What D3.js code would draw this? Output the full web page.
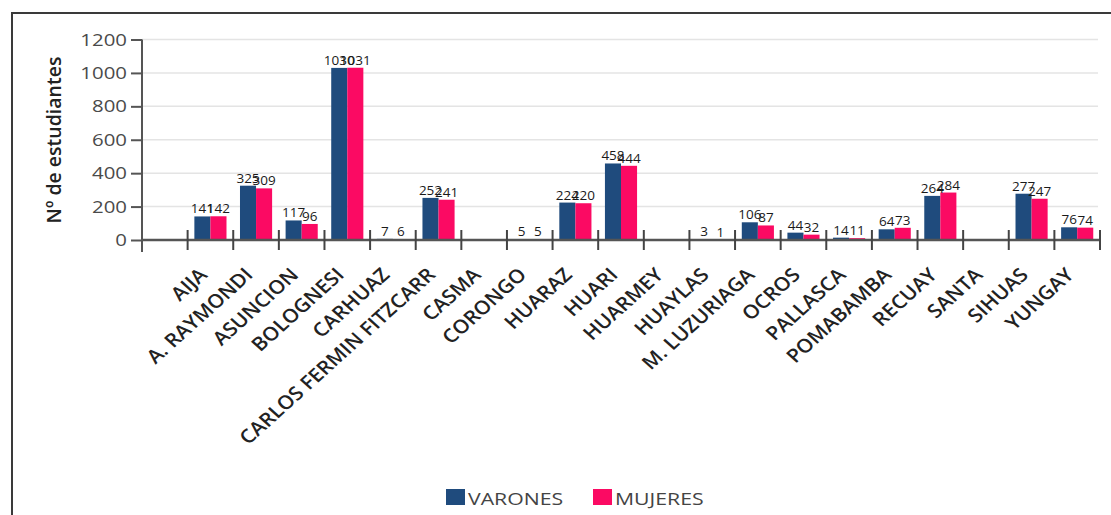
<!DOCTYPE html>
<html><head><meta charset="utf-8">
<script src="https://cdn.jsdelivr.net/npm/d3@7"></script>
<style>
html,body{margin:0;padding:0;background:#fff;}
svg{display:block;font-family:"Open Sans",sans-serif;}
</style></head>
<body>
<svg id="chart" width="1111" height="515"></svg>
<script>
const categories = ["", "AIJA", "A. RAYMONDI", "ASUNCION", "BOLOGNESI", "CARHUAZ", "CARLOS FERMIN FITZCARR", "CASMA", "CORONGO", "HUARAZ", "HUARI", "HUARMEY", "HUAYLAS", "M. LUZURIAGA", "OCROS", "PALLASCA", "POMABAMBA", "RECUAY", "SANTA", "SIHUAS", "YUNGAY"];
const varones = [null, 141, 325, 117, 1030, 7, 252, 0, 5, 224, 458, 0, 3, 106, 44, 14, 64, 264, 0, 277, 76];
const mujeres = [null, 142, 309, 96, 1031, 6, 241, 0, 5, 220, 444, 0, 1, 87, 32, 11, 73, 284, 0, 247, 74];
const seriesNames = ["VARONES", "MUJERES"];
const seriesColors = ["#1f4b7d", "#fb0a63"];
const yTicks = [0, 200, 400, 600, 800, 1000, 1200];
const yTitle = "Nº de estudiantes";

const svg = d3.select("#chart");
const plot = {left: 142, right: 1100, top: 39.5, bottom: 240};

// frame
svg.append("line").attr("x1", 12).attr("x2", 1111).attr("y1", 13).attr("y2", 13).attr("stroke", "#3a3a3a").attr("stroke-width", 2);
svg.append("line").attr("x1", 12).attr("x2", 12).attr("y1", 12).attr("y2", 515).attr("stroke", "#3a3a3a").attr("stroke-width", 2);

const x = d3.scaleBand().domain(categories).range([plot.left, plot.right]).padding(0);
const x1 = d3.scaleBand().domain(seriesNames).range([0, x.bandwidth()]).paddingInner(0).paddingOuter(0.42);
const y = d3.scaleLinear().domain([0, 1200]).range([plot.bottom, plot.top]);

// grid
svg.append("g").selectAll("line").data(yTicks.filter(d => d > 0)).join("line")
  .attr("x1", plot.left).attr("x2", plot.right - 2)
  .attr("y1", d => y(d)).attr("y2", d => y(d))
  .attr("stroke", "#e4e4e4").attr("stroke-width", 1.5);

// bars
const rows = categories.map((c, i) => ({c, vals: [varones[i], mujeres[i]]}));
const groups = svg.append("g").selectAll("g").data(rows).join("g")
  .attr("transform", d => `translate(${x(d.c)},0)`);
groups.selectAll("rect").data(d => d.vals.map((v, k) => ({v, k})).filter(e => e.v != null)).join("rect")
  .attr("x", e => x1(seriesNames[e.k]))
  .attr("width", x1.bandwidth())
  .attr("y", e => y(e.v))
  .attr("height", e => Math.max(y(0) - y(e.v), 0))
  .attr("fill", e => seriesColors[e.k]);

// y axis
const yAxis = d3.axisLeft(y).tickValues(yTicks).tickSize(11).tickFormat("");
const gy = svg.append("g").attr("transform", `translate(${plot.left},0)`).call(yAxis);
gy.select(".domain").remove();
gy.selectAll(".tick line").attr("stroke", "#555").attr("stroke-width", 2);
svg.append("line").attr("x1", plot.left).attr("x2", plot.left).attr("y1", plot.top).attr("y2", 252).attr("stroke", "#555").attr("stroke-width", 2);
svg.append("g").selectAll("text").data(yTicks).join("text")
  .attr("transform", d => `translate(127,${y(d)}) scale(1.2,1)`)
  .attr("text-anchor", "end").attr("dy", "0.36em")
  .attr("font-size", 17).attr("fill", "#4a4a4a")
  .text(d => d);

// baseline
svg.append("line").attr("x1", plot.left).attr("x2", plot.right).attr("y1", y(0)).attr("y2", y(0)).attr("stroke", "#555").attr("stroke-width", 2.5);
// x ticks at band boundaries
const bounds = categories.map(c => x(c)).concat([plot.right]);
svg.append("g").selectAll("line").data(bounds.slice(1)).join("line")
  .attr("x1", d => d).attr("x2", d => d).attr("y1", 230).attr("y2", 250)
  .attr("stroke", "#444").attr("stroke-width", 2);

// value labels
groups.selectAll("text").data(d => d.vals.map((v, k) => ({v, k})).filter(e => e.v != null && e.v > 0)).join("text")
  .attr("x", e => x1(seriesNames[e.k]) + x1.bandwidth() / 2)
  .attr("y", e => y(e.v) - 3)
  .attr("text-anchor", "middle")
  .attr("font-size", 13.5).attr("fill", "#1a1a1a")
  .text(e => e.v);

// x labels
svg.append("g").selectAll("text").data(categories.filter(c => c !== "")).join("text")
  .attr("transform", c => `translate(${x(c) + x.bandwidth() / 2 - 2},276) scale(1.11,1) rotate(-45)`)
  .attr("text-anchor", "end")
  .attr("font-size", 19).attr("font-weight", 600).attr("fill", "#222")
  .text(c => c);

// y title
svg.append("text").attr("transform", "translate(61,140) rotate(-90)")
  .attr("text-anchor", "middle").attr("font-size", 19.5).attr("font-weight", 600).attr("fill", "#222")
  .text(yTitle);

// legend
const legendX = [446, 593];
const lg = svg.append("g").selectAll("g").data(seriesNames).join("g")
  .attr("transform", (d, i) => `translate(${legendX[i]},489)`);
lg.append("rect").attr("width", 19).attr("height", 16).attr("fill", (d, i) => seriesColors[i]);
lg.append("text").attr("transform", "translate(22,16) scale(1.25,1)")
  .attr("font-size", 17).attr("fill", "#444").text(d => d);
</script>
</body></html>
